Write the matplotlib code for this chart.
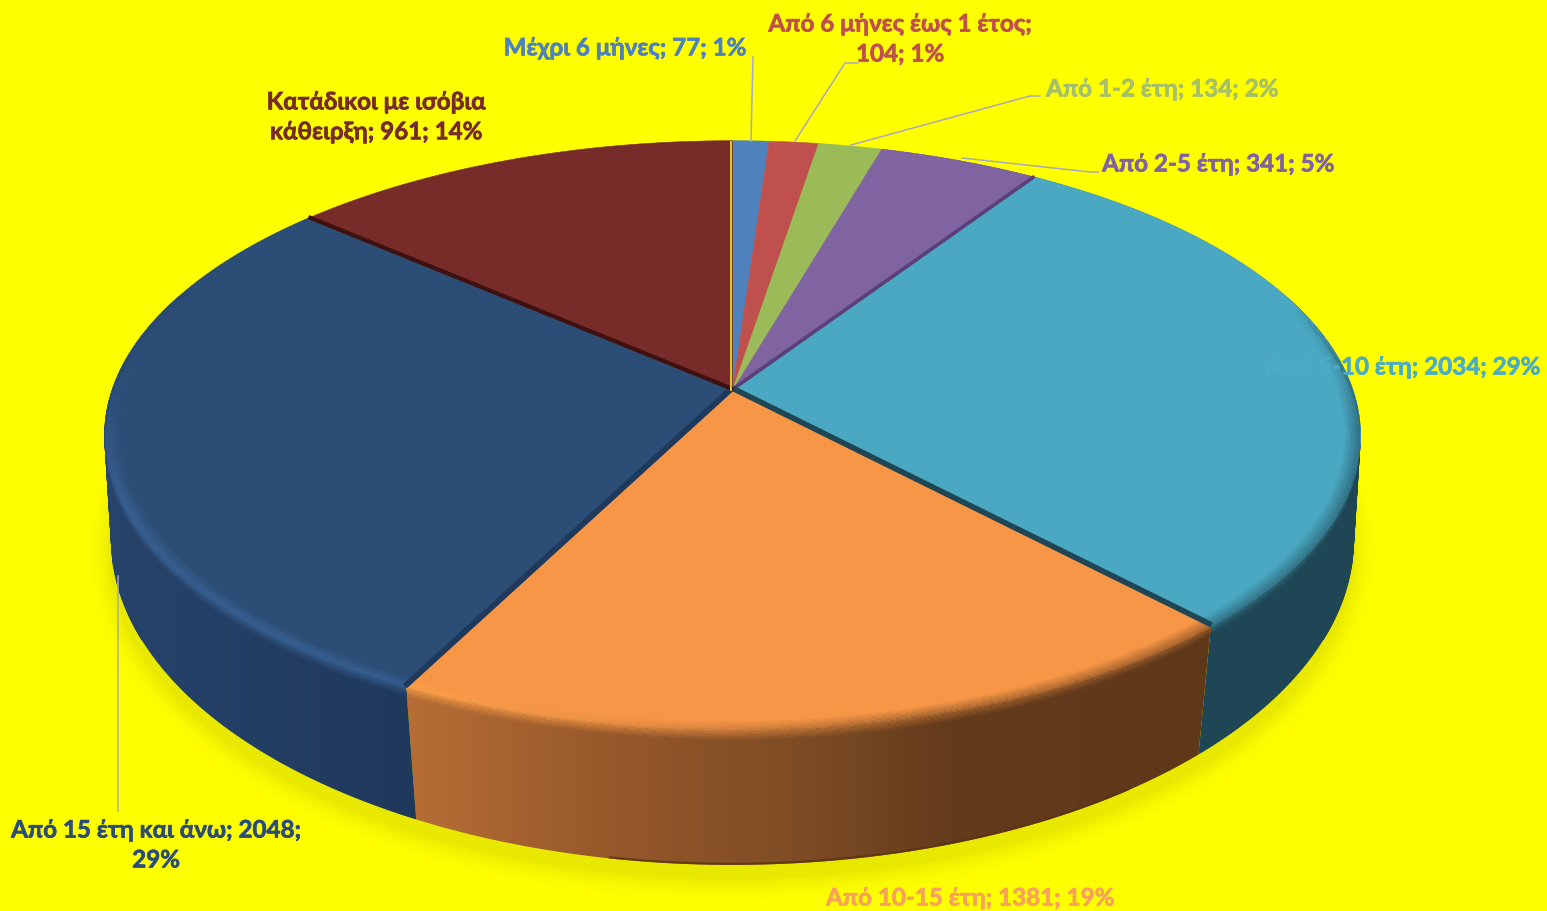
import numpy as np
import matplotlib
matplotlib.use("Agg")
import matplotlib.pyplot as plt
from matplotlib.patches import Polygon
from matplotlib.collections import PolyCollection
from matplotlib.path import Path
from matplotlib.colors import to_rgb
import matplotlib.patheffects as pe

plt.rcParams['font.family'] = ['Lato', 'Noto Sans', 'DejaVu Sans']

categories = ["Μέχρι 6 μήνες", "Από 6 μήνες έως 1 έτος", "Από 1-2 έτη", "Από 2-5 έτη",
              "Από 5-10 έτη", "Από 10-15 έτη", "Από 15 έτη και άνω",
              "Κατάδικοι με ισόβια κάθειρξη"]
values = [77, 104, 134, 341, 2034, 1381, 2048, 961]
percents = [1, 1, 2, 5, 29, 19, 29, 14]
colors = ["#4F81BD", "#C0504D", "#9BBB59", "#8064A2", "#4AA8C2", "#F79646", "#2C4D75", "#772C2A"]
label_colors = ["#4F81BD", "#C0504D", "#A6BF6A", "#8064A2", "#4BACC6", "#F9A15C", "#2C4D75", "#772C2A"]

# label centres in pixels, and where the text wraps
label_xy = [(625, 49), (900, 40), (1162, 90), (1218, 165), (1403, 368), (970, 899), (156, 846), (376, 118)]
label_breaks = {1: "Από 6 μήνες έως 1 έτος;\n104; 1%",
                6: "Από 15 έτη και άνω; 2048;\n29%",
                7: "Κατάδικοι με ισόβια\nκάθειρξη; 961; 14%"}
leaders = [[(753, 58), (751, 142)],
           [(858, 64), (845, 64), (795, 142)],
           [(1040, 97), (1030, 97), (851, 146)],
           [(1098, 173), (1090, 173), (962, 159)],
           [(118, 812), (118, 577)]]

W, H = 1547, 912
CX = 732.5
TOP_K, TOP_A, TOP_B, TOP_Y = 0.153, 620.6, 288, 391.5
BOT_K, BOT_A, BOT_B, BOT_Y = 0.130, 616, 320, 498


def project(theta, r=1.0, z=0.0):
    # theta clockwise from 12 o'clock in radians, z=0 top face, z=1 bottom face
    u = r * np.sin(theta)
    v = -r * np.cos(theta)
    x_top = CX + TOP_A * u / (1 - TOP_K * v)
    y_top = TOP_Y + TOP_B * v / (1 - TOP_K * v)
    x_bot = CX + BOT_A * u / (1 - BOT_K * v)
    y_bot = BOT_Y + BOT_B * v / (1 - BOT_K * v)
    return x_top + (x_bot - x_top) * z, y_top + (y_bot - y_top) * z


def side_rgb(name, x):
    stops = side_stops[name]
    xs = [s[0] for s in stops]
    rgb = np.array([to_rgb(s[1]) for s in stops])
    return np.stack([np.interp(x, xs, rgb[:, i]) for i in range(3)], axis=-1)


def box_blur(img, n):
    for axis in (0, 1):
        c = np.cumsum(img, axis=axis)
        pad = np.zeros_like(np.take(c, [0], axis=axis))
        c = np.concatenate([pad, c], axis=axis)
        m = img.shape[axis]
        hi = np.minimum(np.arange(m) + n + 1, m)
        lo = np.maximum(np.arange(m) - n, 0)
        div = (hi - lo).reshape((-1, 1) if axis == 0 else (1, -1))
        img = (np.take(c, hi, axis=axis) - np.take(c, lo, axis=axis)) / div
    return img


fractions = np.array(values) / sum(values)
edges = np.concatenate([[0], np.cumsum(fractions)]) * 2 * np.pi

# per slice colour of the outer wall, running left to right
side_stops = {
    3: [(0, "#4A3A66"), (W, "#4A3A66")],
    4: [(0, "#1F4654"), (W, "#1F4654")],
    5: [(415, "#B56D35"), (600, "#98592B"), (800, "#7E4C24"), (950, "#643B1C"), (1200, "#5F381A")],
    6: [(117, "#27436A"), (415, "#1F395C")],
}
rim_gain = {4: 1.0, 5: 1.09, 6: 1.28}

fig = plt.figure(figsize=(W / 100, H / 100), dpi=100, facecolor="#FFFF00")
ax = fig.add_axes([0, 0, 1, 1])
ax.set_facecolor("#FFFF00")
ax.axis("off")

# soft shadow under the pie
tt = np.linspace(0, 2 * np.pi, 721)
sx, sy = project(tt, 1.0, 1.0)
gx, gy = np.meshgrid(np.arange(0, W, 2) + 1.0, np.arange(0, H, 2) + 1.0)
shadow_path = Path(np.column_stack([sx, sy + 12]))
mask = shadow_path.contains_points(np.column_stack([gx.ravel(), gy.ravel()])).reshape(gx.shape).astype(float)
blur = box_blur(box_blur(mask, 7), 7)
alpha = np.clip(blur * 2.0, 0, 1)
shadow = np.zeros(mask.shape + (4,))
shadow[..., 0] = 232 / 255
shadow[..., 1] = 232 / 255
shadow[..., 3] = alpha
ax.imshow(shadow, extent=(0, W, H, 0), aspect="auto", zorder=1, interpolation="bilinear")

# outer walls with a left to right gradient
grad_x = np.arange(0, W) + 0.5
for i in (3, 4, 5, 6):
    th = np.linspace(edges[i], edges[i + 1], 200)
    x1, y1 = project(th, 1.0, 0.0)
    x2, y2 = project(th[::-1], 1.0, 1.0)
    wall = Polygon(np.column_stack([np.r_[x1, x2], np.r_[y1, y2]]), closed=True,
                   facecolor="none", edgecolor="none", transform=ax.transData)
    ax.add_patch(wall)
    grad = side_rgb(i, grad_x)[np.newaxis, :, :]
    im = ax.imshow(grad, extent=(0, W, H, 0), aspect="auto", zorder=2)
    im.set_clip_path(wall)

# strips that close the notch where top and bottom outlines meet at the widest points
quads = []
quad_cols = []
for i, lo, hi_deg in ((4, 70, 115), (6, 245, 290)):
    th = np.radians(np.linspace(lo, hi_deg, 46))
    x1, y1 = project(th, 1.0, 0.0)
    x2, y2 = project(th, 1.0, 1.0)
    for a in range(len(th) - 1):
        quads.append([(x1[a], y1[a]), (x1[a + 1], y1[a + 1]), (x2[a + 1], y2[a + 1]), (x2[a], y2[a])])
        quad_cols.append(side_rgb(i, x2[a]))
ax.add_collection(PolyCollection(quads, facecolors=quad_cols, edgecolors=quad_cols, linewidths=0.4, zorder=2.5))

# darker lip along the lower edge of the orange wall
th = np.radians(np.linspace(145, 190, 80))
x, y = project(th, 1.0, 1.0)
ax.plot(x, y - 1, color="#5A3216", lw=1.6, alpha=0.8, zorder=2.6)

# flat top face
for i, col in enumerate(colors):
    th = np.linspace(edges[i], edges[i + 1], max(int(fractions[i] * 720), 8))
    x, y = project(th)
    pts = np.column_stack([np.r_[CX, x], np.r_[TOP_Y, y]])
    ax.add_patch(Polygon(pts, closed=True, facecolor=col, edgecolor=col, linewidth=0.4, zorder=3))

# rounded rim between top face and wall
rim_th = np.radians(np.linspace(72, 292, 881))
rim_s = np.linspace(0, 1, 15)
rim_x = np.zeros((len(rim_th), len(rim_s)))
rim_y = np.zeros_like(rim_x)
for j, s in enumerate(rim_s):
    if s < 0.62:
        r = 0.974 + (1.0 - 0.974) * s / 0.62
        z = 0.0
    else:
        r = 1.0
        z = 0.07 * (s - 0.62) / 0.38
    rim_x[:, j], rim_y[:, j] = project(rim_th, r, z)

mid_th = 0.5 * (rim_th[:-1] + rim_th[1:])
mid_s = 0.5 * (rim_s[:-1] + rim_s[1:])
deg = np.degrees(mid_th)
idx = np.searchsorted(edges, mid_th) - 1
rim_c = np.zeros((len(mid_th), len(mid_s), 4))
hi = np.clip((deg - 165) / 45, 0, 1) * np.clip((292 - deg) / 45, 0, 1)
fade = np.clip((deg - 72) / 25, 0, 1) * np.clip((292 - deg) / 35, 0, 1)
for a in range(len(mid_th)):
    i = idx[a]
    if i not in side_stops:
        continue
    top = np.array(to_rgb(colors[i]))
    x_mid = 0.5 * (rim_x[a, -1] + rim_x[a + 1, -1])
    wall = side_rgb(i, x_mid)
    light = np.clip(top * (1 + (rim_gain.get(i, 1.0) - 1) * hi[a]), 0, 1)
    for b, s in enumerate(mid_s):
        if s < 0.5:
            c = top + (light - top) * s / 0.5
            if hi[a] < 1:
                c = c + (wall - c) * (1 - hi[a]) * (s / 0.5) * 0.5
        else:
            base = light + (wall - light) * (1 - hi[a]) * 0.5
            c = base + (wall - base) * (s - 0.5) / 0.5
        rim_c[a, b, :3] = np.clip(c, 0, 1)
        rim_c[a, b, 3] = fade[a]
ax.pcolormesh(rim_x, rim_y, rim_c, shading="flat", zorder=4, antialiased=True, linewidth=0)

# dark seams between slices, pushed over to the darker slice
seams = [(4, "#5A3F78", 2.6, -1.0), (5, "#1F4654", 4.0, -2.0), (6, "#1F395C", 4.2, 2.0), (7, "#3E1110", 3.0, 1.5)]
for i, col, lw, off in seams:
    x, y = project(edges[i], 1.0)
    n = np.array([-(y - TOP_Y), x - CX]) / np.hypot(x - CX, y - TOP_Y)
    ax.plot([CX + n[0] * off, x + n[0] * off], [TOP_Y + n[1] * off, y + n[1] * off],
            color=col, lw=lw, solid_capstyle="butt", zorder=5)
x, y = project(0.0, 1.0)
ax.plot([CX - 1.5, x - 1.5], [TOP_Y, y], color="#D8D020", lw=1.4, solid_capstyle="butt", zorder=5)

# leader lines
for line in leaders:
    xs, ys = zip(*line)
    ax.plot(xs, ys, color="#A9A9BE", lw=1.1, zorder=6)

# data labels
for i, cat in enumerate(categories):
    text = label_breaks.get(i, f"{cat}; {values[i]}; {percents[i]}%")
    ax.text(label_xy[i][0], label_xy[i][1], text, color=label_colors[i], fontsize=17.4, fontweight="bold",
            ha="center", va="center", linespacing=1.36, zorder=7,
            path_effects=[pe.withStroke(linewidth=0.5, foreground=label_colors[i])])

ax.set_xlim(0, W)
ax.set_ylim(H, 0)
fig.savefig("out.png", dpi=100, facecolor=fig.get_facecolor())
